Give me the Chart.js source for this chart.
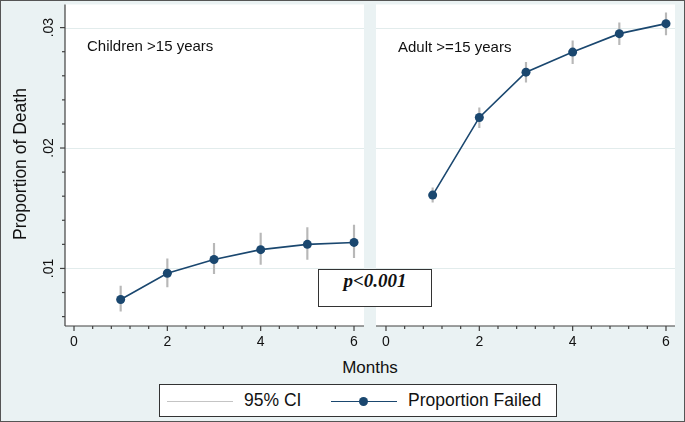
<!DOCTYPE html>
<html>
<head>
<meta charset="utf-8">
<script src="https://cdn.jsdelivr.net/npm/chart.js@4.4.0/dist/chart.umd.min.js"></script>
<style>
  html, body { margin: 0; padding: 0; }
  body { width: 685px; height: 422px; position: relative; overflow: hidden;
         background: #eaf2f3; font-family: "Liberation Sans", Arial, sans-serif; color: #111; }
  canvas { position: absolute; top: 0; }
  #childChart { left: 0; }
  #adultChart { left: 370px; }
  .lbl { position: absolute; white-space: nowrap; }
  #ylabel { left: -130px; top: 154px; width: 300px; height: 20px; line-height: 20px;
            text-align: center; font-size: 17.5px; transform: rotate(-90deg); }
  #xlabel { left: 270px; top: 358px; width: 200px; line-height: 20px; text-align: center; font-size: 17px; }
  .title { font-size: 15px; line-height: 18px; }
  #pbox { position: absolute; left: 318px; top: 269px; width: 112px; height: 36px; background: #fff;
          border: 1.5px solid #333; text-align: center; line-height: 36px;
          font: italic bold 19px "Liberation Serif", "Times New Roman", serif; }
  #legend { position: absolute; left: 159px; top: 384px; width: 396px; height: 31px;
            background: #fff; border: 1px solid #333; font-size: 17.5px; }
  #legend span { position: absolute; }
  .ln { height: 0; top: 16px; }
  #frame { position: absolute; left: 0; top: 0; width: 685px; height: 422px; box-sizing: border-box;
           border: 1px solid #555; pointer-events: none; }
</style>
</head>
<body>
<canvas id="childChart" width="370" height="350"></canvas>
<canvas id="adultChart" width="315" height="350"></canvas>

<div class="lbl" id="ylabel">Proportion of Death</div>
<div class="lbl" id="xlabel">Months</div>
<div class="lbl title" style="left:87px; top:37px;">Children &gt;15 years</div>
<div class="lbl title" style="left:398px; top:38px;">Adult &gt;=15 years</div>
<div id="pbox">p&lt;0.001</div>
<div id="legend">
  <span class="ln" style="left:7px; width:66px; border-top:1.5px solid #c4c4c4;"></span>
  <span style="left:84px; top:5px;">95% CI</span>
  <span class="ln" style="left:171px; width:66px; border-top:1.6px solid #1a476f;"></span>
  <span style="left:199px; top:12px; width:9px; height:9px; border-radius:50%; background:#1a476f;"></span>
  <span style="left:248px; top:5px;">Proportion Failed</span>
</div>
<div id="frame"></div>

<script>
// months of follow-up
const months = [1, 2, 3, 4, 5, 6];

// children panel
const childProp = [0.00742, 0.0096, 0.01074, 0.01156, 0.0120, 0.01216];
const childLow  = [0.00646, 0.00846, 0.00956, 0.01033, 0.01074, 0.0109];
const childHigh = [0.00854, 0.0108, 0.01208, 0.01294, 0.0134, 0.0136];

// adult panel
const adultProp = [0.01609, 0.02254, 0.0263, 0.02797, 0.0295, 0.03033];
const adultLow  = [0.0155, 0.02169, 0.02547, 0.0270, 0.02858, 0.0294];
const adultHigh = [0.01669, 0.02333, 0.02712, 0.0289, 0.0304, 0.03123];

// axes
const xMajorTicks = [0, 2, 4, 6];
const xMinorTicks = [0.4, 0.8, 1.2, 1.6, 2.4, 2.8, 3.2, 3.6, 4.4, 4.8, 5.2, 5.6];
const yMajorTicks = [0.01, 0.02, 0.03];
const yTickLabels = ['.01', '.02', '.03'];
const yMinorTicks = [0.006, 0.008, 0.012, 0.014, 0.016, 0.018, 0.022, 0.024, 0.026, 0.028];

const navy = '#1a476f';
const ciGrey = '#b8b8b8';
const axisColor = '#404040';
const gridColor = '#e2ecec';

// white plot region, grid and Stata-like axes
const stataFrame = {
  id: 'stataFrame',
  beforeDraw(chart) {
    const { ctx, chartArea: a, scales: { y } } = chart;
    ctx.save();
    ctx.fillStyle = '#fff';
    ctx.fillRect(a.left, a.top, a.right - a.left, a.bottom - a.top);
    ctx.strokeStyle = gridColor;
    ctx.lineWidth = 1;
    yMajorTicks.forEach(v => {
      const py = Math.round(y.getPixelForValue(v)) + 0.5;
      ctx.beginPath(); ctx.moveTo(a.left, py); ctx.lineTo(a.right, py); ctx.stroke();
    });
    ctx.restore();
  },
  afterDraw(chart, args, opts) {
    const { ctx, chartArea: a, scales: { x, y } } = chart;
    ctx.save();
    ctx.strokeStyle = axisColor;
    ctx.fillStyle = '#111';
    ctx.lineWidth = 1.2;

    // x axis
    ctx.beginPath(); ctx.moveTo(a.left, a.bottom); ctx.lineTo(a.right, a.bottom); ctx.stroke();
    const tick = (px, len) => { ctx.beginPath(); ctx.moveTo(px, a.bottom); ctx.lineTo(px, a.bottom + len); ctx.stroke(); };
    xMajorTicks.forEach(v => tick(x.getPixelForValue(v), 5));
    xMinorTicks.forEach(v => tick(x.getPixelForValue(v), 3));
    ctx.font = '14px "Liberation Sans", Arial, sans-serif';
    ctx.textAlign = 'center';
    ctx.textBaseline = 'middle';
    xMajorTicks.forEach(v => ctx.fillText(String(v), x.getPixelForValue(v), a.bottom + 16));

    // y axis on the left panel only
    if (opts.yAxis) {
      ctx.beginPath(); ctx.moveTo(a.left, a.top); ctx.lineTo(a.left, a.bottom); ctx.stroke();
      const ytick = (py, len) => { ctx.beginPath(); ctx.moveTo(a.left, py); ctx.lineTo(a.left - len, py); ctx.stroke(); };
      yMajorTicks.forEach(v => ytick(y.getPixelForValue(v), 5));
      yMinorTicks.forEach(v => ytick(y.getPixelForValue(v), 3));
      yMajorTicks.forEach((v, i) => {
        ctx.save();
        ctx.translate(a.left - 16, y.getPixelForValue(v));
        ctx.rotate(-Math.PI / 2);
        ctx.fillText(yTickLabels[i], 0, 0);
        ctx.restore();
      });
    }
    ctx.restore();
  }
};

function makePanel(id, prop, low, high, xMin, xMax, pad, showY) {
  return new Chart(document.getElementById(id), {
    type: 'line',
    data: {
      datasets: [
        {
          type: 'line',
          label: 'Proportion Failed',
          data: months.map((m, i) => ({ x: m, y: prop[i] })),
          borderColor: navy,
          borderWidth: 1.6,
          backgroundColor: navy,
          pointRadius: 4.5,
          pointBorderWidth: 0,
          pointBackgroundColor: navy,
          tension: 0,
          clip: false,
          order: 0
        },
        {
          type: 'bar',
          label: '95% CI',
          data: months.map((m, i) => ({ x: m, y: [low[i], high[i]] })),
          backgroundColor: ciGrey,
          barThickness: 1.5,
          grouped: false,
          order: 1
        }
      ]
    },
    options: {
      responsive: false,
      animation: false,
      layout: { padding: pad },
      scales: {
        x: { type: 'linear', min: xMin, max: xMax, offset: false, display: false },
        y: { type: 'linear', min: 0.00522, max: 0.03192, display: false }
      },
      plugins: {
        legend: { display: false },
        tooltip: { enabled: false },
        stataFrame: { yAxis: showY }
      }
    },
    plugins: [stataFrame]
  });
}

makePanel('childChart', childProp, childLow, childHigh, -0.193, 6.214,
  { left: 65, right: 6, top: 2, bottom: 24 }, true);
makePanel('adultChart', adultProp, adultLow, adultHigh, -0.214, 6.193,
  { left: 6, right: 10, top: 2, bottom: 24 }, false);
</script>
</body>
</html>
